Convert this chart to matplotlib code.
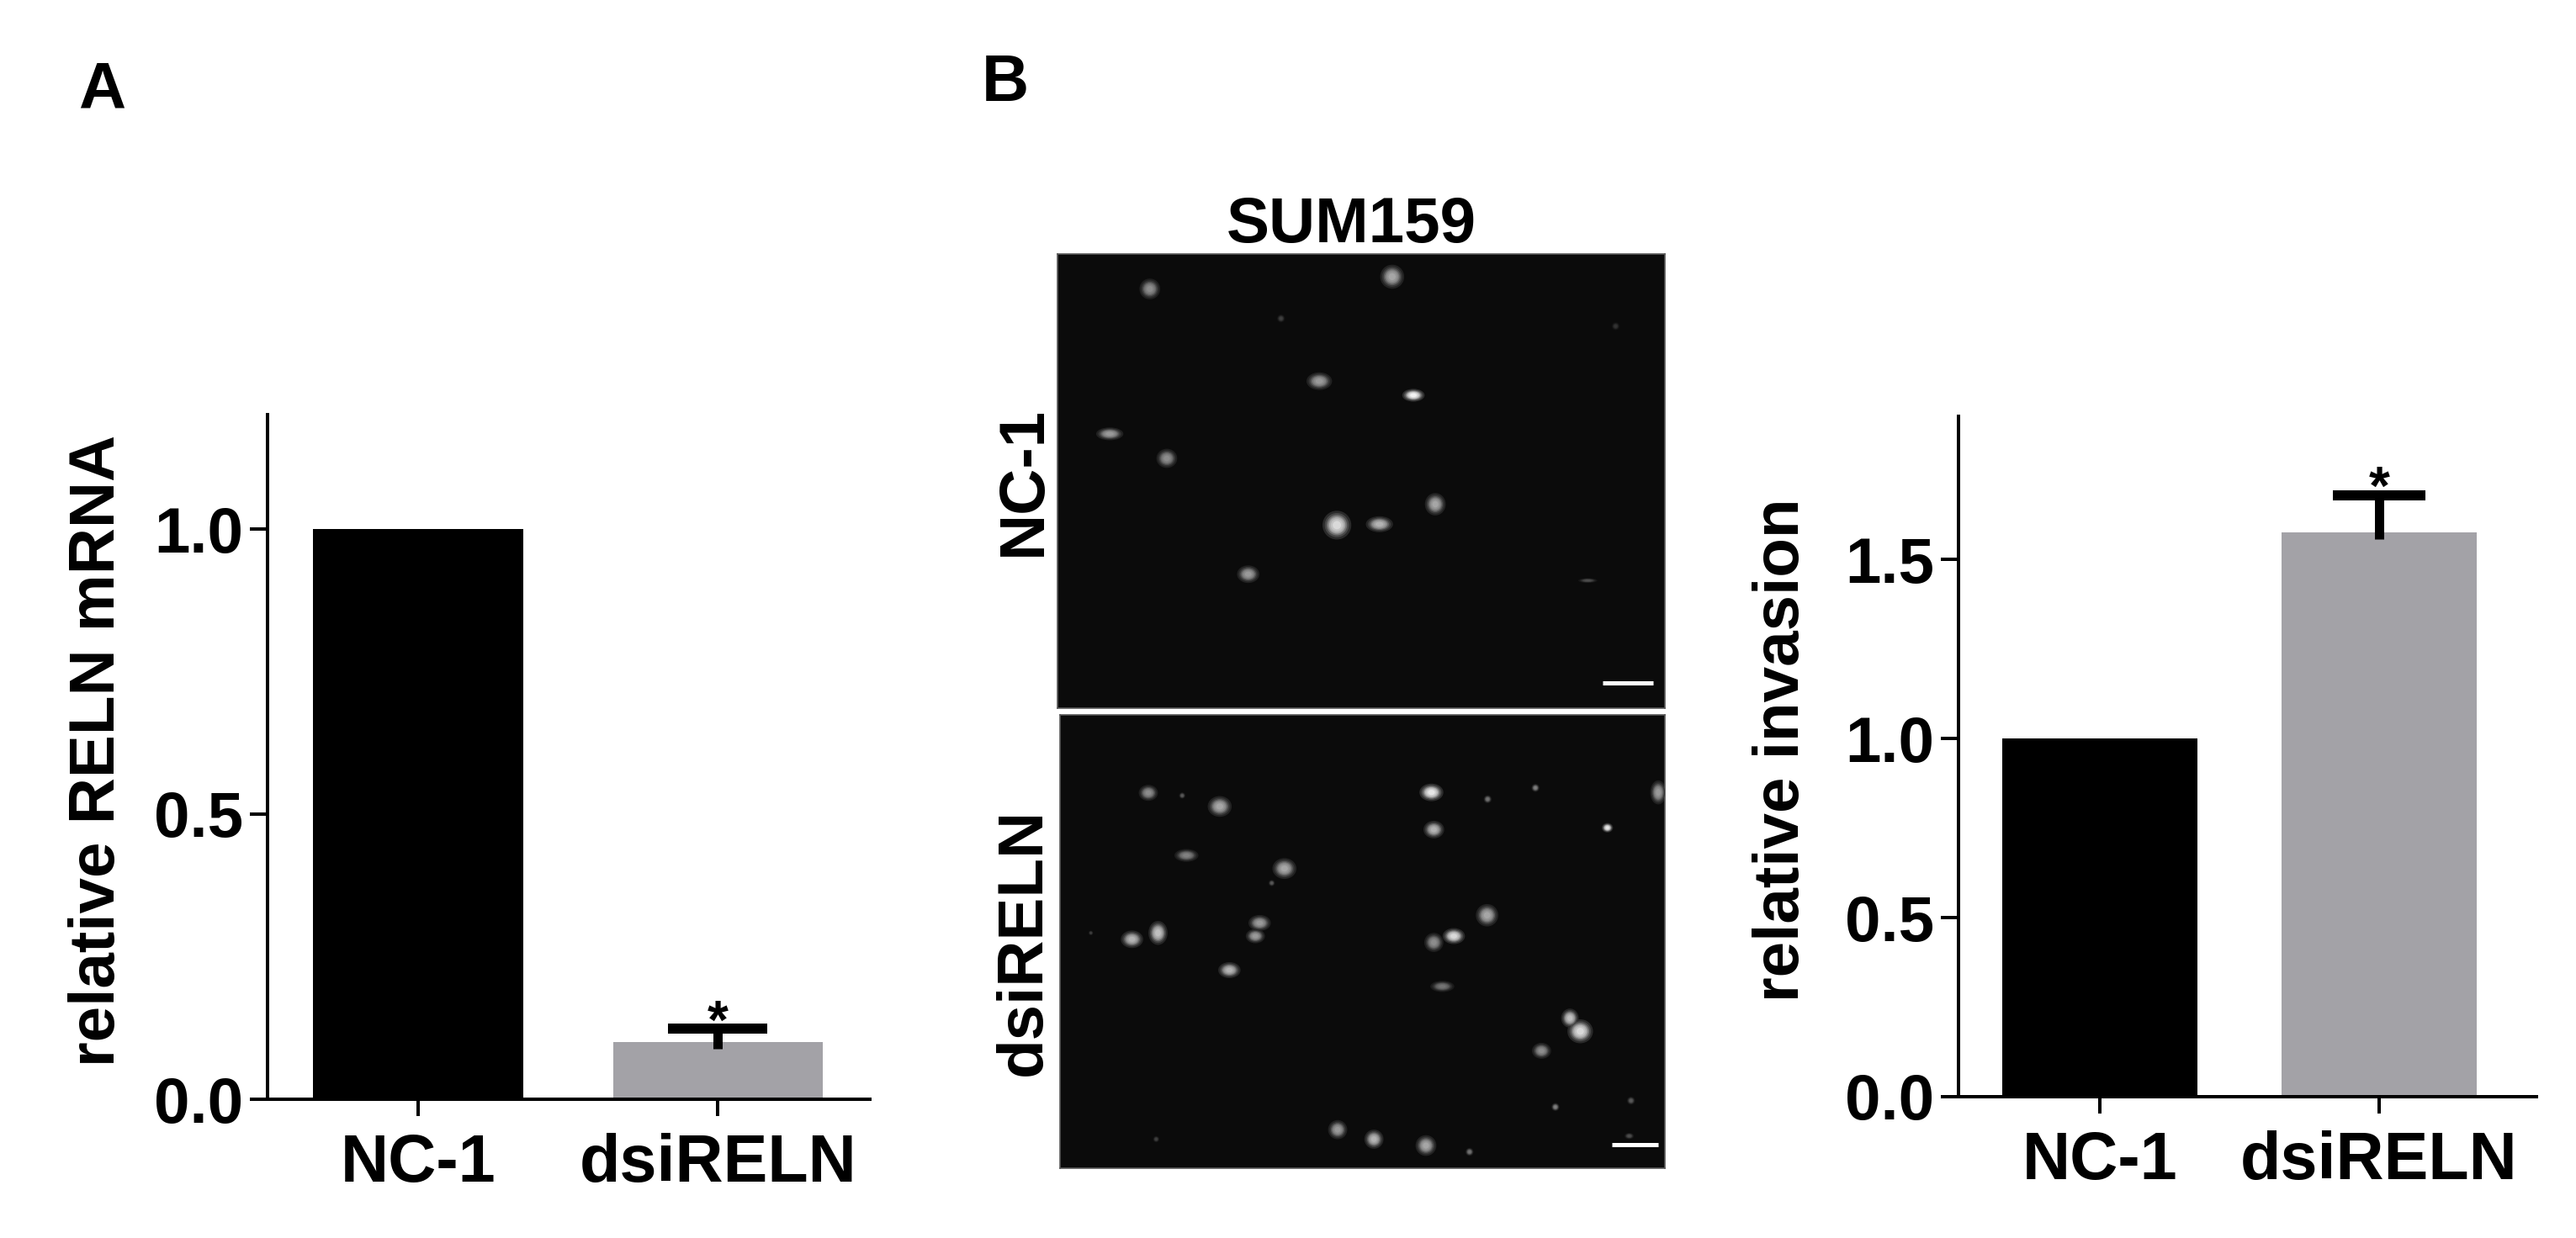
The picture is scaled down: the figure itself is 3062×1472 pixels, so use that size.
import matplotlib
matplotlib.use("Agg")
import matplotlib.pyplot as plt
from matplotlib.patches import Ellipse

plt.rcParams['font.family'] = ['Liberation Sans', 'DejaVu Sans']
plt.rcParams['font.weight'] = 'bold'

# ---------------- data ----------------
categories = ['NC-1', 'dsiRELN']
bar_colors = ['#000000', '#a3a2a7']

mrna_mean = [1.0, 0.10]
mrna_err = [0.0, 0.024]
mrna_sig = ['', '*']
mrna_yticks = [0.0, 0.5, 1.0]

invasion_mean = [1.0, 1.575]
invasion_err = [0.0, 0.105]
invasion_sig = ['', '*']
invasion_yticks = [0.0, 0.5, 1.0, 1.5]

# fluorescent nuclei read off the micrographs (fraction of width, fraction of height from top,
# size in px, brightness 0-1)
nc_cell_x = [0.152, 0.551, 0.431, 0.586, 0.086, 0.180, 0.622, 0.460, 0.530, 0.314, 0.873, 0.368, 0.919]
nc_cell_y = [0.077, 0.050, 0.280, 0.311, 0.396, 0.450, 0.551, 0.597, 0.595, 0.705, 0.719, 0.142, 0.159]
nc_cell_w = [13, 15, 16, 14, 17, 13, 13, 18, 17, 14, 12, 5, 5]
nc_cell_h = [13, 15, 11, 8, 8, 12, 14, 18, 10, 11, 3, 5, 5]
nc_cell_b = [0.55, 0.65, 0.6, 0.95, 0.6, 0.55, 0.65, 0.85, 0.7, 0.6, 0.3, 0.25, 0.2]

ds_cell_x = [0.146, 0.264, 0.614, 0.618, 0.989, 0.905, 0.209, 0.371, 0.786, 0.707, 0.202,
             0.119, 0.162, 0.330, 0.323, 0.280, 0.706, 0.618, 0.651, 0.632, 0.843, 0.860,
             0.796, 0.819, 0.459, 0.519, 0.605, 0.677, 0.350, 0.944, 0.159, 0.051, 0.941]
ds_cell_y = [0.172, 0.202, 0.171, 0.253, 0.171, 0.249, 0.310, 0.339, 0.161, 0.186, 0.178,
             0.495, 0.481, 0.459, 0.488, 0.563, 0.442, 0.502, 0.488, 0.599, 0.669, 0.698,
             0.741, 0.865, 0.915, 0.936, 0.950, 0.964, 0.371, 0.851, 0.936, 0.481, 0.929]
ds_cell_w = [12, 15, 15, 13, 10, 7, 15, 15, 5, 5, 4,
             14, 12, 14, 12, 14, 14, 12, 14, 15, 11, 16,
             12, 5, 12, 12, 13, 5, 4, 5, 4, 3, 6]
ds_cell_h = [10, 13, 11, 11, 15, 6, 8, 13, 5, 5, 4,
             11, 15, 10, 9, 10, 14, 12, 10, 7, 12, 15,
             10, 5, 12, 12, 13, 5, 4, 5, 4, 3, 4]
ds_cell_b = [0.55, 0.65, 0.9, 0.7, 0.6, 0.9, 0.5, 0.65, 0.5, 0.45, 0.35,
             0.7, 0.75, 0.6, 0.6, 0.7, 0.65, 0.55, 0.85, 0.45, 0.75, 0.85,
             0.55, 0.5, 0.6, 0.7, 0.65, 0.45, 0.35, 0.35, 0.25, 0.25, 0.3]

# ---------------- layout helpers ----------------
W, H = 3062, 1472
PT = 72 / 100.0  # points per pixel at dpi 100
fig = plt.figure(figsize=(W / 100, H / 100), dpi=100)
fig.patch.set_facecolor('white')


def rect(x0, y_top, x1, y_bot):
    return [x0 / W, 1 - y_bot / H, (x1 - x0) / W, (y_bot - y_top) / H]


FS = 55
SPINE_LW = 4 * PT
CAP_HALF = 0.165


def bar_panel(ax, means, errs, sigs, yticks, ylim, xlim, ylabel, label_x):
    x = list(range(len(categories)))
    ax.bar(x, means, width=0.70, color=bar_colors, edgecolor='none', zorder=2)
    for i in x:
        if errs[i] > 0:
            top = means[i] + errs[i]
            ax.vlines(i, means[i] - 0.01 * ylim[1], top, color='black', lw=11 * PT, zorder=3)
            ax.hlines(top, i - CAP_HALF, i + CAP_HALF, color='black', lw=12 * PT, zorder=3)
        if sigs[i]:
            ax.annotate(sigs[i], xy=(i, means[i] + errs[i]), xytext=(0, 4),
                        textcoords='offset points', ha='center', va='center',
                        fontsize=46, fontweight='bold')
    ax.set_xlim(*xlim)
    ax.set_ylim(*ylim)
    ax.set_yticks(yticks)
    ax.set_yticklabels([f'{t:.1f}' for t in yticks])
    ax.set_xticks(x)
    ax.set_xticklabels(categories)
    for s in ('top', 'right'):
        ax.spines[s].set_visible(False)
    for s in ('left', 'bottom'):
        ax.spines[s].set_linewidth(SPINE_LW)
    ax.tick_params(axis='y', length=21 * PT, width=SPINE_LW, labelsize=FS, pad=8 * PT)
    ax.tick_params(axis='x', length=20 * PT, width=SPINE_LW, labelsize=FS + 2, pad=20 * PT)
    for lab in ax.get_xticklabels() + ax.get_yticklabels():
        lab.set_fontweight('bold')
    ax.set_ylabel(ylabel, fontsize=FS, fontweight='bold', va='baseline')
    ax.yaxis.set_label_coords(label_x, 0.51)
    # x axis line extends slightly left of the y axis (GraphPad style)
    ext = 21 / (ax.get_position().width * W)
    ax.plot([-ext, 0], [0, 0], transform=ax.transAxes, color='black', lw=SPINE_LW,
            clip_on=False, solid_capstyle='butt')


# Panel A
axA = fig.add_axes(rect(318, 493.4, 1034, 1307))
bar_panel(axA, mrna_mean, mrna_err, mrna_sig, mrna_yticks, (0, 1.2), (-0.503, 1.508),
          'relative RELN mRNA', (136 - 318) / 716)

# Panel B chart
axB = fig.add_axes(rect(2328, 495, 3015, 1304))
bar_panel(axB, invasion_mean, invasion_err, invasion_sig, invasion_yticks, (0, 1.9),
          (-0.506, 1.563), 'relative invasion', (2138 - 2328) / 687)


# Panel B micrographs
BG = 0.045


def micrograph(ax, cx, cy, cw, ch, cb, bar_from, bar_to, bar_y):
    iw = ax.get_position().width * W
    ih = ax.get_position().height * H
    ax.set_facecolor((BG, BG, BG))
    ax.set_xlim(0, iw)
    ax.set_ylim(ih, 0)
    ax.set_xticks([])
    ax.set_yticks([])
    for s in ax.spines.values():
        s.set_color('#5a5a5a')
        s.set_linewidth(1.2)
    layers = [(1.9, 0.15), (1.6, 0.3), (1.35, 0.5), (1.15, 0.68), (1.0, 0.8), (0.8, 0.9), (0.55, 1.0)]
    for x, y, w, h, b in zip(cx, cy, cw, ch, cb):
        for k, (scale, frac) in enumerate(layers):
            g = BG + (b - BG) * frac
            ax.add_patch(Ellipse((x * iw, y * ih), w * scale, h * scale,
                                 color=(g, g, g), lw=0, zorder=2 + k))
    ax.plot([bar_from * iw, bar_to * iw], [bar_y * ih, bar_y * ih], color='white',
            lw=5 * PT, solid_capstyle='butt', zorder=20)


axI1 = fig.add_axes(rect(1257, 302, 1979, 842))
micrograph(axI1, nc_cell_x, nc_cell_y, nc_cell_w, nc_cell_h, nc_cell_b, 0.897, 0.981, 0.944)
axI2 = fig.add_axes(rect(1260, 850, 1979, 1389))
micrograph(axI2, ds_cell_x, ds_cell_y, ds_cell_w, ds_cell_h, ds_cell_b, 0.912, 0.989, 0.948)

fig.text(1606 / W, 1 - 288 / H, 'SUM159', ha='center', va='baseline', fontsize=FS,
         fontweight='bold')
fig.text(1237 / W, 1 - 572 / H, 'NC-1', rotation=90, rotation_mode='anchor',
         ha='center', va='baseline', fontsize=FS, fontweight='bold')
fig.text(1237 / W, 1 - 1120 / H, 'dsiRELN', rotation=90, rotation_mode='anchor',
         ha='center', va='baseline', fontsize=FS, fontweight='bold')

# panel letters
fig.text(121 / W, 1 - 128 / H, 'A', ha='center', va='baseline', fontsize=56, fontweight='bold')
fig.text(1195 / W, 1 - 120 / H, 'B', ha='center', va='baseline', fontsize=56, fontweight='bold')

fig.savefig('out.png', dpi=100, facecolor='white')
